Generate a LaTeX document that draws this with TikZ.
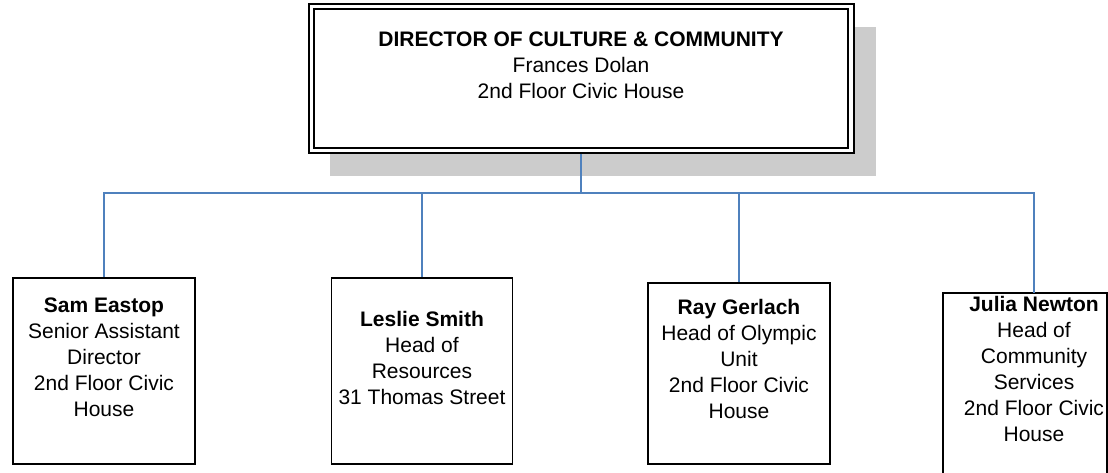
\documentclass[tikz,border=0pt]{standalone}
\usepackage{fontspec}
\setmainfont{Liberation Sans}
\begin{document}
\begin{tikzpicture}[x=1pt,y=1pt,
  box/.style={draw=black,line width=1.5pt,inner sep=0pt},
  txt/.style={align=center,inner sep=0pt,font=\fontsize{21}{26}\selectfont},
  link/.style={draw={rgb,255:red,79;green,129;blue,189},line width=1.5pt}]
\useasboundingbox (0,0) rectangle (1108,473);
% top box with shadow
\fill[black!20] (330,297) rectangle (876,446);
\node[box,fill=white,line width=2pt,minimum width=545pt,minimum height=149pt] (top) at (581,394.5) {};
\node[box,line width=1.8pt,minimum width=534pt,minimum height=139pt] (topin) at (581,394.5) {};
\node[txt] (toptxt) at (581,407.5) {\textbf{DIRECTOR OF CULTURE \& COMMUNITY}\\Frances Dolan\\2nd Floor Civic House};
% children
\node[box,minimum width=182pt,minimum height=186pt] (sam) at (104,102) {};
\node[txt] (samtxt) at (104,115.5) {\textbf{Sam Eastop}\\Senior Assistant\\Director\\2nd Floor Civic\\House};
\node[box,minimum width=181pt,minimum height=186pt] (leslie) at (422,102) {};
\node[txt] (leslietxt) at (422,115) {\textbf{Leslie Smith}\\Head of\\Resources\\31 Thomas Street};
\node[box,minimum width=182pt,minimum height=181pt] (ray) at (739,99.5) {};
\node[txt] (raytxt) at (739,114) {\textbf{Ray Gerlach}\\Head of Olympic\\Unit\\2nd Floor Civic\\House};
\coordinate (jnw) at (943,180);
\coordinate (jse) at (1107,-2);
\draw[box] (jnw) rectangle (jse);
\coordinate (julia) at (1034,180);
\node[txt] (juliatxt) at (1034,104) {\textbf{Julia Newton}\\Head of\\Community\\Services\\2nd Floor Civic\\House};
% connectors
\draw[link] (top.south) -- ++(0,-39) coordinate (bus);
\draw[link] (sam.north) |- (bus);
\draw[link] (leslie.north) |- (bus);
\draw[link] (ray.north) |- (bus);
\draw[link] (julia) |- (bus);
\end{tikzpicture}
\end{document}
